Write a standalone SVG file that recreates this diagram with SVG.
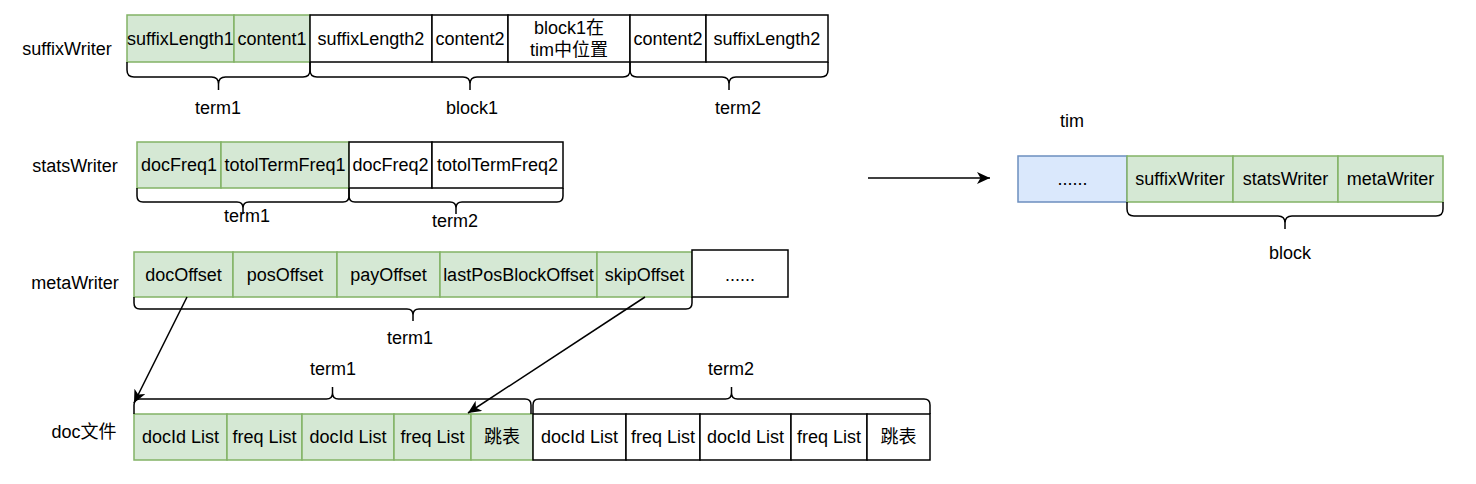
<svg xmlns="http://www.w3.org/2000/svg" width="1476" height="484" viewBox="0 0 1476 484">
<defs>
<style>
text{font-family:"Liberation Sans","Noto Sans CJK SC",Arial,sans-serif;font-size:18px;fill:#000;text-anchor:middle;}
.g{fill:#d5e8d4;stroke:#82b366;stroke-width:1.5;}
.w{fill:#fff;stroke:#000;stroke-width:1.5;}
.b{fill:#dae8fc;stroke:#6c8ebf;stroke-width:1.5;}
.br{fill:none;stroke:#000;stroke-width:1.5;}
.ln{fill:none;stroke:#000;stroke-width:1.5;}
</style>
<marker id="arr" markerUnits="userSpaceOnUse" markerWidth="14" markerHeight="12" refX="13" refY="6" orient="auto">
<path d="M0,0 L13,6 L0,12 L3.5,6 Z" fill="#000"/>
</marker>
</defs>
<rect width="1476" height="484" fill="#fff"/>

<g id="labels">
<text x="67" y="55">suffixWriter</text>
<text x="75" y="172">statsWriter</text>
<text x="75" y="289">metaWriter</text>
<text x="84" y="438">doc文件</text>
<text x="1072" y="127">tim</text>
</g>

<g id="suffixWriter">
<rect class="g" x="127" y="15" width="107" height="47"/>
<rect class="g" x="234" y="15" width="76" height="47"/>
<rect class="w" x="310" y="15" width="122" height="47"/>
<rect class="w" x="432" y="15" width="76" height="47"/>
<rect class="w" x="508" y="15" width="122" height="47"/>
<rect class="w" x="630" y="15" width="76" height="47"/>
<rect class="w" x="706" y="15" width="122" height="47"/>
<text x="180.5" y="45">suffixLength1</text>
<text x="272" y="45">content1</text>
<text x="371" y="45">suffixLength2</text>
<text x="470" y="45">content2</text>
<text x="569" y="34">block1在</text>
<text x="569" y="56">tim中位置</text>
<text x="668" y="45">content2</text>
<text x="767" y="45">suffixLength2</text>
</g>
<g id="suffixBraces">
<path class="br" d="M127,62 L127,70 Q127,77 134,77 L211.5,77 Q218.5,77 218.5,84 L218.5,90 M310,62 L310,70 Q310,77 303,77 L225.5,77 Q218.5,77 218.5,84"/>
<path class="br" d="M310,62 L310,70 Q310,77 317,77 L463,77 Q470,77 470,84 L470,90 M630,62 L630,70 Q630,77 623,77 L477,77 Q470,77 470,84"/>
<path class="br" d="M630,62 L630,70 Q630,77 637,77 L722,77 Q729,77 729,84 L729,90 M828,62 L828,70 Q828,77 821,77 L736,77 Q729,77 729,84"/>
<text x="218" y="114">term1</text>
<text x="472" y="114">block1</text>
<text x="738" y="114">term2</text>
</g>

<g id="statsWriter">
<rect class="g" x="137" y="142" width="84" height="46"/>
<rect class="g" x="221" y="142" width="128" height="46"/>
<rect class="w" x="349" y="142" width="83" height="46"/>
<rect class="w" x="432" y="142" width="131" height="46"/>
<text x="179" y="171">docFreq1</text>
<text x="285" y="171">totolTermFreq1</text>
<text x="390.5" y="171">docFreq2</text>
<text x="497.5" y="171">totolTermFreq2</text>
</g>
<g id="statsBraces">
<path class="br" d="M137,188 L137,196 Q137,202 143,202 L237,202 Q243,202 243,208 L243,214 M349,188 L349,196 Q349,202 343,202 L249,202 Q243,202 243,208"/>
<path class="br" d="M349,188 L349,196 Q349,202 355,202 L450,202 Q456,202 456,208 L456,214 M563,188 L563,196 Q563,202 557,202 L462,202 Q456,202 456,208"/>
<text x="247" y="222">term1</text>
<text x="455" y="227">term2</text>
</g>

<g id="metaWriter">
<rect class="g" x="134" y="252" width="99" height="45"/>
<rect class="g" x="233" y="252" width="104" height="45"/>
<rect class="g" x="337" y="252" width="103" height="45"/>
<rect class="g" x="440" y="252" width="157" height="45"/>
<rect class="g" x="597" y="252" width="95" height="45"/>
<rect class="w" x="692" y="250" width="96" height="47"/>
<text x="183.5" y="281">docOffset</text>
<text x="285" y="281">posOffset</text>
<text x="388.5" y="281">payOffset</text>
<text x="518.5" y="281">lastPosBlockOffset</text>
<text x="644.5" y="281">skipOffset</text>
<text x="740" y="281">......</text>
</g>
<g id="metaBraces">
<path class="br" d="M134,297 L134,303 Q134,309 140,309 L407,309 Q413,309 413,315 L413,321 M692,297 L692,303 Q692,309 686,309 L419,309 Q413,309 413,315"/>
<text x="410" y="344">term1</text>
</g>

<g id="docFile">
<rect class="g" x="134" y="414" width="93" height="46"/>
<rect class="g" x="227" y="414" width="75" height="46"/>
<rect class="g" x="302" y="414" width="92" height="46"/>
<rect class="g" x="394" y="414" width="77" height="46"/>
<rect class="g" x="471" y="414" width="62" height="46"/>
<rect class="w" x="533" y="414" width="93" height="46"/>
<rect class="w" x="626" y="414" width="74" height="46"/>
<rect class="w" x="700" y="414" width="91" height="46"/>
<rect class="w" x="791" y="414" width="76" height="46"/>
<rect class="w" x="867" y="414" width="63" height="46"/>
<text x="180.5" y="443">docId List</text>
<text x="264.5" y="443">freq List</text>
<text x="348" y="443">docId List</text>
<text x="432.5" y="443">freq List</text>
<text x="502" y="443">跳表</text>
<text x="579.5" y="443">docId List</text>
<text x="663" y="443">freq List</text>
<text x="745.5" y="443">docId List</text>
<text x="829" y="443">freq List</text>
<text x="898.5" y="443">跳表</text>
</g>
<g id="docBraces">
<path class="br" d="M134,414 L134,405 Q134,399 140,399 L326.5,399 Q332.5,399 332.5,393 L332.5,387 M531,414 L531,405 Q531,399 525,399 L338.5,399 Q332.5,399 332.5,393"/>
<path class="br" d="M533,414 L533,405 Q533,399 539,399 L725.5,399 Q731.5,399 731.5,393 L731.5,387 M930,414 L930,405 Q930,399 924,399 L737.5,399 Q731.5,399 731.5,393"/>
<text x="333" y="375">term1</text>
<text x="731" y="375">term2</text>
</g>

<g id="tim">
<rect class="b" x="1018" y="156" width="109" height="46"/>
<rect class="g" x="1127" y="156" width="106" height="46"/>
<rect class="g" x="1233" y="156" width="105" height="46"/>
<rect class="g" x="1338" y="156" width="105" height="46"/>
<text x="1072.5" y="185">......</text>
<text x="1180" y="185">suffixWriter</text>
<text x="1285.5" y="185">statsWriter</text>
<text x="1390.5" y="185">metaWriter</text>
</g>
<g id="timBrace">
<path class="br" d="M1127,202 L1127,209 Q1127,216 1134,216 L1278,216 Q1285,216 1285,223 L1285,229 M1443,202 L1443,209 Q1443,216 1436,216 L1292,216 Q1285,216 1285,223"/>
<text x="1290" y="259">block</text>
</g>

<g id="connectors">
<line class="ln" x1="187" y1="297" x2="134" y2="403" marker-end="url(#arr)"/>
<line class="ln" x1="645" y1="297" x2="468" y2="413" marker-end="url(#arr)"/>
<line class="ln" x1="868" y1="178" x2="990" y2="178" marker-end="url(#arr)"/>
</g>
</svg>
